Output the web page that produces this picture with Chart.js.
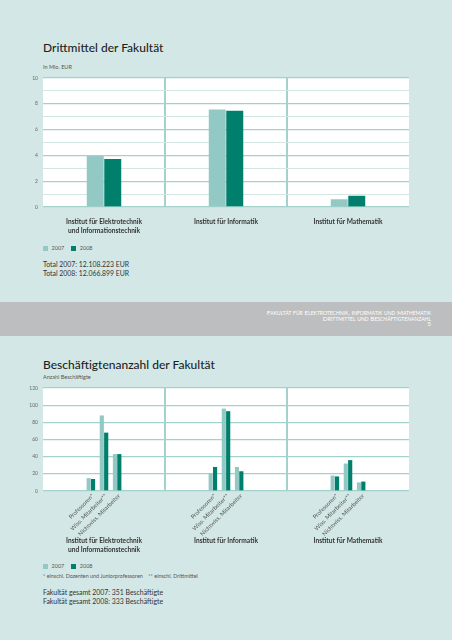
<!DOCTYPE html>
<html>
<head>
<meta charset="utf-8">
<script src="https://cdn.jsdelivr.net/npm/chart.js@4"></script>
<style>
  html, body { margin: 0; padding: 0; }
  body {
    width: 452px; height: 640px; position: relative; overflow: hidden;
    background: #d3e8e6; font-family: Lato, "Open Sans", sans-serif; color: #2b2b2b;
  }
  .abs { position: absolute; white-space: nowrap; }
  .title { left: 43px; font-size: 12px; line-height: 14px; color: #1f1f1f; font-weight: 500; }
  .unit { left: 43px; font-size: 5.5px; color: #555; }
  .legend { left: 43px; font-size: 5.5px; color: #555; }
  .legend span.sq { display: inline-block; width: 4.5px; height: 4.5px; vertical-align: -0.5px; margin-right: 4px; }
  .legend span.lbl { margin-right: 7px; }
  .total { left: 43px; font-size: 6.9px; line-height: 9px; color: #333; }
  .note { left: 43px; font-size: 5.4px; color: #555; }
  .band { left: 0; top: 302px; width: 452px; height: 34px; background: #bdbebf; }
  .band div { position: absolute; right: 21px; color: #fff; font-size: 6.5px; font-variant: small-caps; text-align: right; }
  canvas { position: absolute; left: 0; }
</style>
</head>
<body>
<div class="abs title" style="top:41px;">Drittmittel der Fakultät</div>
<div class="abs unit" style="top:64px;">In Mio. EUR</div>
<canvas id="fundsChart" width="452" height="170" style="top:70px;"></canvas>
<div class="abs legend" style="top:245px;"><span class="sq" style="background:#93c9c5"></span><span class="lbl">2007</span><span class="sq" style="background:#007f6c"></span><span class="lbl">2008</span></div>
<div class="abs total" style="top:260px;">Total 2007: 12.108.223 EUR<br>Total 2008: 12.066.899 EUR</div>

<div class="abs band">
  <div style="top:7px;">Fakultät für Elektrotechnik, Informatik und Mathematik</div>
  <div style="top:12.7px;">Drittmittel und Beschäftigtenanzahl</div>
  <div style="top:18.4px;">5</div>
</div>

<div class="abs title" style="top:358px;">Beschäftigtenanzahl der Fakultät</div>
<div class="abs unit" style="top:374px;">Anzahl Beschäftigte</div>
<canvas id="staffChart" width="452" height="180" style="top:380px;"></canvas>
<div class="abs legend" style="top:563px;"><span class="sq" style="background:#93c9c5"></span><span class="lbl">2007</span><span class="sq" style="background:#007f6c"></span><span class="lbl">2008</span></div>
<div class="abs note" style="top:573px;">* einschl. Dozenten und Juniorprofessoren &nbsp;&nbsp;&nbsp;** einschl. Drittmittel</div>
<div class="abs total" style="top:588px;">Fakultät gesamt 2007: 351 Beschäftigte<br>Fakultät gesamt 2008: 333 Beschäftigte</div>

<script>
  // Categories
  const institutes = [
    ['Institut für Elektrotechnik', 'und Informationstechnik'],
    'Institut für Informatik',
    'Institut für Mathematik'
  ];
  const staffGroups = ['Professoren*', 'Wiss. Mitarbeiter**', 'Nichtwiss. Mitarbeiter'];

  // Drittmittel in Mio. EUR
  const funds2007 = [3.95, 7.55, 0.60];
  const funds2008 = [3.72, 7.47, 0.87];

  // Beschäftigte
  const prof2007 = [15, 21, 18];
  const prof2008 = [14, 28, 17];
  const wiss2007 = [88, 96, 32];
  const wiss2008 = [68, 93, 36];
  const nichtwiss2007 = [43, 28, 10];
  const nichtwiss2008 = [43, 23, 11];

  // Tick labels
  const fundsTicks = [0, 2, 4, 6, 8, 10];
  const staffTicks = [0, 20, 40, 60, 80, 100, 120];

  const LIGHT = '#93c9c5';
  const DARK = '#007f6c';
  const GRID_MAJOR = '#a3d2cd';
  const GRID_MINOR = '#d3e6e3';

  Chart.defaults.font.family = 'Lato, "Open Sans", sans-serif';
  Chart.defaults.animation = false;

  // white plot background
  const plotBg = {
    id: 'plotBg',
    beforeDraw(chart) {
      const { ctx, chartArea: a } = chart;
      ctx.save();
      ctx.fillStyle = '#ffffff';
      ctx.fillRect(a.left, a.top, a.width, a.height);
      ctx.restore();
    }
  };

  function yScale(max, step, ticks) {
    return {
      min: 0,
      max: max,
      border: { display: false },
      afterFit: s => { s.width = 43; },
      grid: {
        drawTicks: false,
        color: c => (c.tick && c.tick.value % (step * 2) === 0) ? GRID_MAJOR : GRID_MINOR,
        lineWidth: c => (c.tick && c.tick.value % (step * 2) === 0) ? 1.3 : 1
      },
      ticks: {
        stepSize: step,
        padding: 5,
        color: '#666',
        font: { size: 5 },
        callback: v => ticks.includes(v) ? String(v) : ''
      }
    };
  }

  function xScale(height, padding) {
    return {
      border: { display: false },
      afterFit: s => { s.height = height; },
      grid: {
        drawTicks: false,
        color: c => (c.index === 1 || c.index === 2) ? GRID_MAJOR : 'rgba(0,0,0,0)',
        lineWidth: 2
      },
      ticks: {
        padding: padding,
        maxRotation: 0,
        autoSkip: false,
        color: '#333',
        font: { size: 6.6, weight: 'bold', lineHeight: 1.36 }
      }
    };
  }

  new Chart(document.getElementById('fundsChart'), {
    type: 'bar',
    data: {
      labels: institutes,
      datasets: [
        { label: '2007', data: funds2007, backgroundColor: LIGHT },
        { label: '2008', data: funds2008, backgroundColor: DARK }
      ]
    },
    options: {
      responsive: false,
      categoryPercentage: 0.287,
      barPercentage: 0.97,
      layout: { padding: { top: 7, right: 43, left: 0, bottom: 0 } },
      plugins: { legend: { display: false }, tooltip: { enabled: false } },
      scales: {
        x: xScale(33, 10),
        y: yScale(10, 1, fundsTicks)
      }
    },
    plugins: [plotBg]
  });

  // rotated sub-category labels under each pair of bars
  const staffLabels = {
    id: 'staffLabels',
    afterDraw(chart) {
      const { ctx, chartArea: a } = chart;
      ctx.save();
      ctx.fillStyle = '#555';
      ctx.font = '5.8px Lato, "Open Sans", sans-serif';
      ctx.textAlign = 'right';
      ctx.textBaseline = 'middle';
      const pairs = [[0, 1], [3, 4], [6, 7]];
      institutes.forEach((_, i) => {
        pairs.forEach(([d1, d2], k) => {
          const b1 = chart.getDatasetMeta(d1).data[i];
          const b2 = chart.getDatasetMeta(d2).data[i];
          const x = (b1.x + b2.x) / 2 + 2;
          ctx.save();
          ctx.translate(x, a.bottom + 4);
          ctx.rotate(-Math.PI / 4);
          ctx.fillText(staffGroups[k], 0, 0);
          ctx.restore();
        });
      });
      ctx.restore();
    }
  };

  const spacer = institutes.map(() => 0);

  new Chart(document.getElementById('staffChart'), {
    type: 'bar',
    data: {
      labels: institutes,
      datasets: [
        { label: '2007', data: prof2007, backgroundColor: LIGHT },
        { label: '2008', data: prof2008, backgroundColor: DARK },
        { label: '', data: spacer, backgroundColor: 'rgba(0,0,0,0)' },
        { label: '2007', data: wiss2007, backgroundColor: LIGHT },
        { label: '2008', data: wiss2008, backgroundColor: DARK },
        { label: '', data: spacer, backgroundColor: 'rgba(0,0,0,0)' },
        { label: '2007', data: nichtwiss2007, backgroundColor: LIGHT },
        { label: '2008', data: nichtwiss2008, backgroundColor: DARK }
      ]
    },
    options: {
      responsive: false,
      categoryPercentage: 0.287,
      barPercentage: 0.95,
      layout: { padding: { top: 7, right: 43, left: 0, bottom: 0 } },
      plugins: { legend: { display: false }, tooltip: { enabled: false } },
      scales: {
        x: xScale(69, 45),
        y: yScale(120, 10, staffTicks)
      }
    },
    plugins: [plotBg, staffLabels]
  });
</script>
</body>
</html>
